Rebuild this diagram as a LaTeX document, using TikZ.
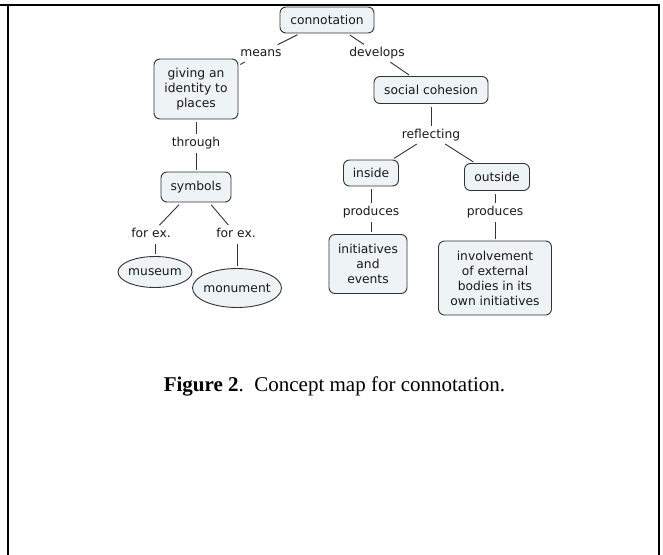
\documentclass[tikz,border=0pt]{standalone}
\usepackage{fontspec}
\setmainfont{DejaVu Sans}
\newfontfamily\capfont{Liberation Serif}
\usetikzlibrary{shapes.geometric}
\definecolor{cfill}{HTML}{EEF3F6}
\definecolor{cline}{HTML}{333333}
\tikzset{
  concept/.style={draw=cline, line width=0.9pt, fill=cfill, rounded corners=6pt, align=center,
    font=\fontsize{12.3}{15}\selectfont, inner sep=1pt, text=black!90},
  oval/.style={draw=cline, line width=0.9pt, fill=cfill, ellipse, inner xsep=-2.5pt, inner ysep=0pt,
    font=\fontsize{12.3}{15}\selectfont, text=black!90},
  link/.style={font=\fontsize{12.3}{15}\selectfont, inner sep=1.5pt, text height=9pt, text depth=2.5pt, text=black!90},
  conn/.style={draw=cline, line width=0.9pt, shorten <=3pt, shorten >=2pt},
  frameline/.style={line width=2pt, black}
}
\begin{document}
\begin{tikzpicture}[x=1pt,y=-1pt]
\useasboundingbox (0,0) rectangle (663,554);
% frame
\draw[frameline] (0,5) -- (659,5);
\draw[frameline] (7.5,5) -- (7.5,556);
\draw[frameline] (658.5,4) -- (658.5,556);
% concepts
\node[concept, minimum width=94pt, minimum height=26pt] (con) at (327,20) {connotation};
\node[concept, minimum width=84pt, minimum height=60pt] (give) at (196,89) {giving an\\identity to\\places};
\node[concept, minimum width=70pt, minimum height=30pt] (sym) at (196,187) {symbols};
\node[oval, minimum width=74pt, minimum height=31pt] (mus) at (155,272) {museum};
\node[oval, minimum width=89pt, minimum height=39pt] (mon) at (237,288) {monument};
\node[concept, minimum width=114pt, minimum height=27pt] (soc) at (431,90) {social cohesion};
\node[concept, minimum width=55pt, minimum height=26pt] (ins) at (371,173) {inside};
\node[concept, minimum width=65pt, minimum height=27pt] (out) at (497,177) {outside};
\node[concept, minimum width=78pt, minimum height=59pt] (init) at (368,264) {initiatives\\and\\events};
\node[concept, minimum width=113pt, minimum height=74pt] (inv) at (495,278) {involvement\\of external\\bodies in its\\own initiatives};
% linking phrases
\node[link] (means) at (261,53) {means};
\node[link] (dev) at (377,53) {develops};
\node[link] (thr) at (196,143) {through};
\node[link] (fex1) at (151,234) {for ex.};
\node[link] (fex2) at (236,234) {for ex.};
\node[link] (refl) at (431,135) {reflecting};
\node[link] (prod1) at (371,212) {produces};
\node[link] (prod2) at (495,212) {produces};
% connectors
\draw[conn] (con) -- (means);
\draw[conn] (means) -- (give);
\draw[conn] (con) -- (dev);
\draw[conn] (dev) -- (soc);
\draw[conn] (give) -- (thr);
\draw[conn] (thr) -- (sym);
\draw[conn] (sym) -- (fex1);
\draw[conn] (sym) -- (fex2);
\draw[conn] (fex1.south -| mus.north) -- (mus.north);
\draw[conn] (fex2.south -| mon.north) -- (mon.north);
\draw[conn] (soc) -- (refl);
\draw[conn] (refl) -- (ins);
\draw[conn] (refl) -- (out);
\draw[conn] (ins) -- (prod1);
\draw[conn] (prod1) -- (init.north -| prod1.south);
\draw[conn] (out.south -| prod2.north) -- (prod2);
\draw[conn] (prod2) -- (inv);
% caption
\node[font=\capfont\fontsize{21}{24}\selectfont, inner sep=0pt] (cap) at (334.5,386) {\textbf{Figure 2}.\ \ Concept map for connotation.};
\end{tikzpicture}
\end{document}
